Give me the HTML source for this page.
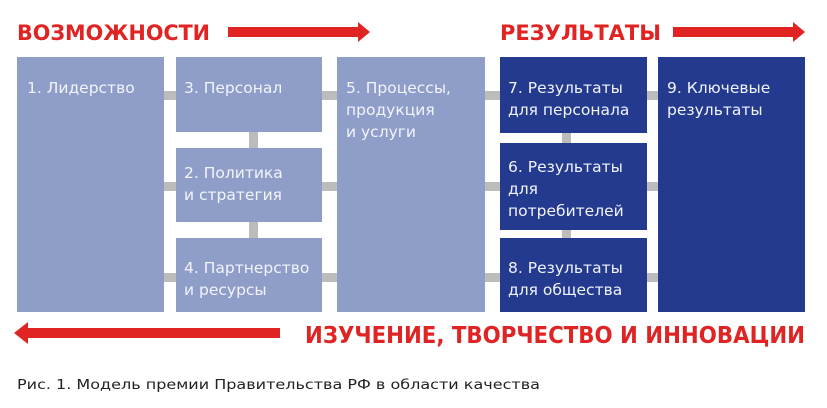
<!DOCTYPE html>
<html><head><meta charset="utf-8"><style>
html,body{margin:0;padding:0;background:#fff;width:827px;height:408px;overflow:hidden}
svg text{font-family:"DejaVu Sans","Liberation Sans",sans-serif}
</style></head><body>
<svg width="827" height="408" viewBox="0 0 827 408" xmlns="http://www.w3.org/2000/svg">
<g fill="#bcbcbc">
<rect x="160" y="91" width="20" height="9"/>
<rect x="160" y="182" width="20" height="9"/>
<rect x="160" y="273" width="20" height="9"/>
<rect x="318" y="91" width="24" height="9"/>
<rect x="318" y="182" width="24" height="9"/>
<rect x="318" y="273" width="24" height="9"/>
<rect x="480" y="91" width="24" height="9"/>
<rect x="480" y="182" width="24" height="9"/>
<rect x="480" y="273" width="24" height="9"/>
<rect x="643" y="91" width="18" height="9"/>
<rect x="643" y="182" width="18" height="9"/>
<rect x="643" y="273" width="18" height="9"/>
<rect x="249" y="128" width="9" height="24"/>
<rect x="249" y="218" width="9" height="24"/>
<rect x="562" y="128" width="9" height="18"/>
<rect x="562" y="226" width="9" height="16"/>
</g>
<g fill="#8f9dc9">
<rect x="17" y="57" width="147" height="255"/>
<rect x="176" y="57" width="146" height="75"/>
<rect x="176" y="148" width="146" height="74"/>
<rect x="176" y="238" width="146" height="74"/>
<rect x="337" y="57" width="148" height="255"/>
</g>
<g fill="#233a8f">
<rect x="500" y="57" width="147" height="76"/>
<rect x="500" y="143" width="147" height="87"/>
<rect x="500" y="238" width="147" height="74"/>
<rect x="658" y="57" width="147" height="255"/>
</g>
<g fill="#f2f4fb" font-size="15.5">
<text x="27" y="93">1. Лидерство</text>
<text x="184" y="93">3. Персонал</text>
<text x="184" y="178">2. Политика</text>
<text x="184" y="200">и стратегия</text>
<text x="184" y="273">4. Партнерство</text>
<text x="184" y="295">и ресурсы</text>
<text x="346" y="93">5. Процессы,</text>
<text x="346" y="115">продукция</text>
<text x="346" y="137">и услуги</text>
<text x="508" y="93">7. Результаты</text>
<text x="508" y="115">для персонала</text>
<text x="508" y="172">6. Результаты</text>
<text x="508" y="194">для</text>
<text x="508" y="216">потребителей</text>
<text x="508" y="273">8. Результаты</text>
<text x="508" y="295">для общества</text>
<text x="667" y="93">9. Ключевые</text>
<text x="667" y="115">результаты</text>
</g>
<g fill="#e02424" font-weight="bold" font-size="21">
<text x="17" y="40" textLength="193" lengthAdjust="spacingAndGlyphs">ВОЗМОЖНОСТИ</text>
<text x="500" y="40" textLength="161" lengthAdjust="spacingAndGlyphs">РЕЗУЛЬТАТЫ</text>
<text x="305" y="343" textLength="500" lengthAdjust="spacingAndGlyphs" font-family="Liberation Sans,sans-serif" font-size="23">ИЗУЧЕНИЕ, ТВОРЧЕСТВО И ИННОВАЦИИ</text>
<polygon points="228,27 358,27 358,22 370,32 358,42 358,37 228,37"/>
<polygon points="673,27 793,27 793,22 805,32 793,42 793,37 673,37"/>
<polygon points="280,328 28,328 28,322 14,333 28,344 28,338 280,338"/>
</g>
<text x="17" y="389" font-size="13" fill="#222" textLength="523" lengthAdjust="spacingAndGlyphs" font-family="Liberation Sans,sans-serif">Рис. 1. Модель премии Правительства РФ в области качества</text>
</svg>
</body></html>
